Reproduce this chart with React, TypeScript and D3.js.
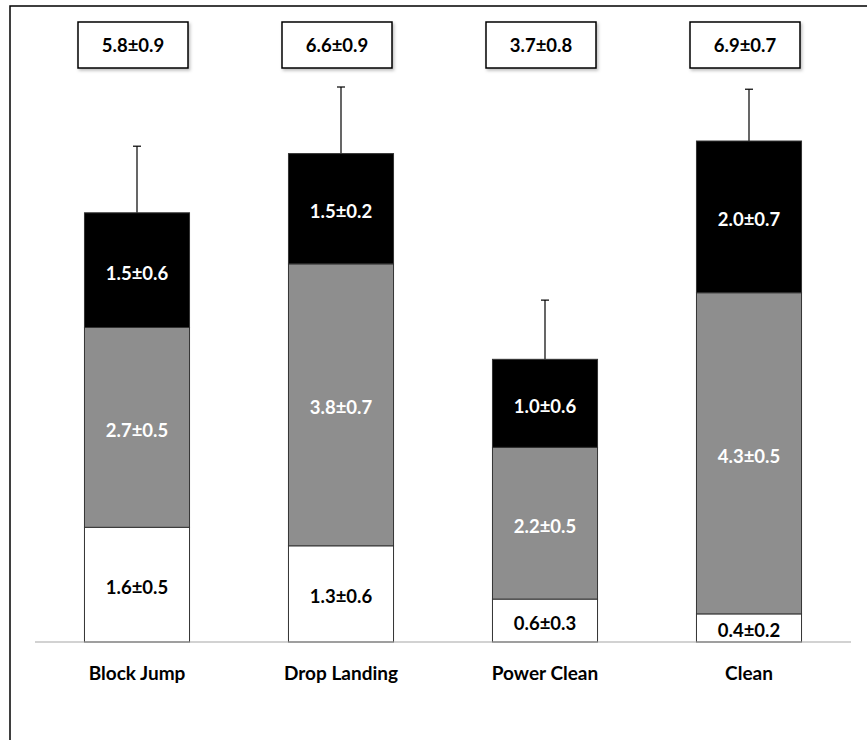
import { useEffect, useRef } from "react";
import * as d3 from "d3";

// categories and segment heights
const categories = ["Block Jump", "Drop Landing", "Power Clean", "Clean"];
const lowerVals = [1.55, 1.3, 0.58, 0.38];
const middleVals = [2.7, 3.81, 2.05, 4.34];
const upperVals = [1.55, 1.49, 1.19, 2.05];
const totalSd = [0.9, 0.9, 0.8, 0.7];

// printed labels
const lowerLabels = ["1.6±0.5", "1.3±0.6", "0.6±0.3", "0.4±0.2"];
const middleLabels = ["2.7±0.5", "3.8±0.7", "2.2±0.5", "4.3±0.5"];
const upperLabels = ["1.5±0.6", "1.5±0.2", "1.0±0.6", "2.0±0.7"];
const totalLabels = ["5.8±0.9", "6.6±0.9", "3.7±0.8", "6.9±0.7"];

const FONT = "Lato, 'Open Sans', sans-serif";

export default function App() {
  const svgRef = useRef<SVGSVGElement | null>(null);

  useEffect(() => {
    const width = 867;
    const height = 740;
    const svg = d3.select(svgRef.current);
    svg.selectAll("*").remove();
    svg.attr("width", width).attr("height", height);

    const defs = svg.append("defs");
    defs
      .append("filter")
      .attr("id", "shadow")
      .attr("x", "-10%")
      .attr("y", "-10%")
      .attr("width", "130%")
      .attr("height", "140%")
      .append("feDropShadow")
      .attr("dx", 1.5)
      .attr("dy", 2)
      .attr("stdDeviation", 1.5)
      .attr("flood-color", "#000")
      .attr("flood-opacity", 0.25);

    // outer frame (cut off at right/bottom in the original)
    svg
      .append("rect")
      .attr("x", 10)
      .attr("y", 6)
      .attr("width", width + 20)
      .attr("height", height + 20)
      .attr("fill", "#fff")
      .attr("stroke", "#000")
      .attr("stroke-width", 1.5);

    const x = d3
      .scaleBand()
      .domain(categories)
      .range([35, 851])
      .paddingInner(0.485)
      .paddingOuter(0.2425);

    const y = d3.scaleLinear().domain([0, 8]).range([642, 50]);

    const rows = categories.map((c, i) => ({
      c,
      i,
      segs: [
        { lo: 0, hi: lowerVals[i], fill: "#fff", color: "#000", label: lowerLabels[i] },
        {
          lo: lowerVals[i],
          hi: lowerVals[i] + middleVals[i],
          fill: "#8e8e8e",
          color: "#fff",
          label: middleLabels[i],
        },
        {
          lo: lowerVals[i] + middleVals[i],
          hi: lowerVals[i] + middleVals[i] + upperVals[i],
          fill: "#000",
          color: "#fff",
          label: upperLabels[i],
        },
      ],
      total: lowerVals[i] + middleVals[i] + upperVals[i],
    }));

    const bw = x.bandwidth();

    // error bars
    const err = svg.append("g").attr("stroke", "#000").attr("stroke-width", 1.2);
    rows.forEach((r) => {
      const cx = (x(r.c) as number) + bw / 2;
      const top = y(r.total + totalSd[r.i]);
      err.append("line").attr("x1", cx).attr("x2", cx).attr("y1", y(r.total)).attr("y2", top);
      err.append("line").attr("x1", cx - 4).attr("x2", cx + 4).attr("y1", top).attr("y2", top);
    });

    // stacked segments
    rows.forEach((r) => {
      const g = svg.append("g");
      g.selectAll("rect")
        .data(r.segs)
        .enter()
        .append("rect")
        .attr("x", x(r.c) as number)
        .attr("width", bw)
        .attr("y", (d) => y(d.hi))
        .attr("height", (d) => y(d.lo) - y(d.hi))
        .attr("fill", (d) => d.fill)
        .attr("stroke", "#333")
        .attr("stroke-width", 1);

      g.selectAll("text")
        .data(r.segs)
        .enter()
        .append("text")
        .attr("x", (x(r.c) as number) + bw / 2)
        .attr("y", (d) => (y(d.lo) + y(d.hi)) / 2 + 3)
        .attr("dy", "0.35em")
        .attr("text-anchor", "middle")
        .attr("font-family", FONT)
        .attr("font-weight", "bold")
        .attr("font-size", 18.5)
        .attr("fill", (d) => d.color)
        .text((d) => d.label);
    });

    // baseline
    svg
      .append("line")
      .attr("x1", 35)
      .attr("x2", 851)
      .attr("y1", y(0))
      .attr("y2", y(0))
      .attr("stroke", "#a6a6a6")
      .attr("stroke-width", 1.2);

    // category labels
    const axis = svg
      .append("g")
      .attr("transform", `translate(0,${y(0)})`)
      .call(d3.axisBottom(x).tickSize(0).tickPadding(25));
    axis.select(".domain").remove();
    axis
      .selectAll("text")
      .attr("font-family", FONT)
      .attr("font-weight", "bold")
      .attr("font-size", 19)
      .attr("fill", "#000");

    // total boxes at top
    rows.forEach((r) => {
      const cx = (x(r.c) as number) + bw / 2 - 4;
      svg
        .append("rect")
        .attr("x", cx - 55)
        .attr("y", 22)
        .attr("width", 110)
        .attr("height", 46)
        .attr("fill", "#fff")
        .attr("stroke", "#000")
        .attr("stroke-width", 1.5)
        .attr("filter", "url(#shadow)");
      svg
        .append("text")
        .attr("x", cx)
        .attr("y", 46)
        .attr("dy", "0.35em")
        .attr("text-anchor", "middle")
        .attr("font-family", FONT)
        .attr("font-weight", "bold")
        .attr("font-size", 18.5)
        .text(totalLabels[r.i]);
    });
  }, []);

  return <svg ref={svgRef} style={{ position: "absolute", left: 0, top: 0 }} />;
}
